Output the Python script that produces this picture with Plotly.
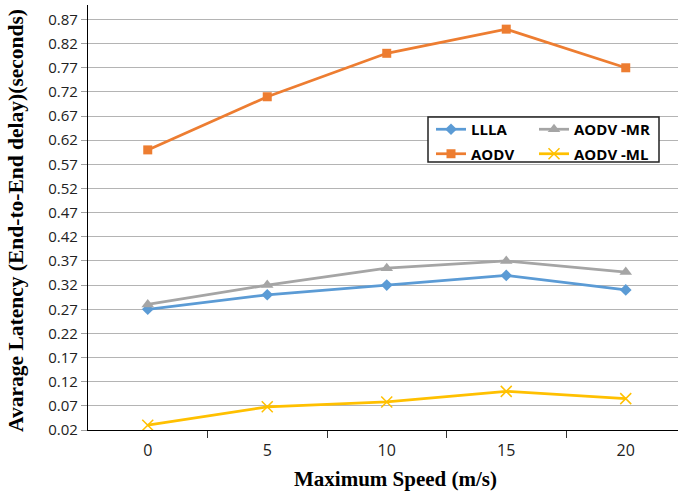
import plotly.graph_objects as go

speeds = [0, 5, 10, 15, 20]
llla = [0.27, 0.30, 0.32, 0.34, 0.31]
aodv = [0.60, 0.71, 0.80, 0.85, 0.77]
aodv_mr = [0.28, 0.32, 0.355, 0.37, 0.347]
aodv_ml = [0.03, 0.068, 0.078, 0.10, 0.085]

y_ticks = [round(0.02 + 0.05 * i, 2) for i in range(18)]

W, H = 678, 493
L, R, T, B = 88, 0, 5, 63
pw, ph = W - L - R, H - T - B


def px_x(x):
    return (x - L) / pw


def px_y(y):
    return (H - B - y) / ph


fig = go.Figure()

series = [
    ("LLLA", llla, "#5B9BD5", dict(symbol="diamond", size=9), "legend"),
    ("AODV", aodv, "#ED7D31", dict(symbol="square", size=9), "legend"),
    ("AODV -MR", aodv_mr, "#A5A5A5", dict(symbol="triangle-up", size=11), "legend2"),
    ("AODV -ML", aodv_ml, "#FFC000", dict(symbol="x-thin", size=11,
                                          line=dict(width=1.5, color="#FFC000")), "legend2"),
]

for name, vals, color, marker, leg in series:
    fig.add_trace(go.Scatter(
        x=speeds, y=vals, name=name, mode="lines+markers",
        line=dict(color=color, width=2.75),
        marker=dict(color=color, **marker),
        legend=leg, legendgroup=name,
    ))

# legend frame
fig.add_shape(type="rect", xref="paper", yref="paper",
              x0=px_x(428), x1=px_x(659), y0=px_y(162), y1=px_y(117),
              line=dict(color="#222222", width=1.5), fillcolor="white", layer="above")

legend_font = dict(family="Open Sans, Arial, sans-serif", size=15, color="black", weight="bold")

serif = "Liberation Serif, Times New Roman, serif"

fig.update_layout(
    width=W, height=H,
    margin=dict(l=L, r=R, t=T, b=B),
    paper_bgcolor="white", plot_bgcolor="white",
    showlegend=True,
    legend=dict(x=px_x(431), y=px_y(113), xanchor="left", yanchor="top",
                bgcolor="rgba(0,0,0,0)", font=legend_font, tracegroupgap=2,
                itemwidth=30),
    legend2=dict(x=px_x(534), y=px_y(113), xanchor="left", yanchor="top",
                 bgcolor="rgba(0,0,0,0)", font=legend_font, tracegroupgap=2,
                 itemwidth=30),
    xaxis=dict(
        range=[-2.5, -2.5 + pw / 23.9],
        tickvals=speeds, ticktext=[str(s) for s in speeds],
        ticks="", showgrid=False, zeroline=False,
        showline=True, linecolor="black", linewidth=1.2,
        tickfont=dict(family="Open Sans, Arial, sans-serif", size=16, color="#222222"),
        minor=dict(tickvals=[2.5, 7.5, 12.5, 17.5], ticks="outside", ticklen=7,
                   tickcolor="#333333", tickwidth=1, showgrid=False),
    ),
    yaxis=dict(
        range=[0.02, 0.90],
        tickvals=y_ticks, ticktext=[f"{v:.2f}" for v in y_ticks],
        ticks="outside", ticklen=6, tickcolor="#a0a0a0",
        showgrid=True, gridcolor="#b4b4b4", gridwidth=1.2, zeroline=False,
        showline=True, linecolor="black", linewidth=1.2,
        tickfont=dict(family="Open Sans, Arial, sans-serif", size=15, color="#222222"),
    ),
    annotations=[
        dict(text="<b>Maximum Speed (m/s)</b>", xref="paper", yref="paper",
             x=px_x(395), y=px_y(479), xanchor="center", yanchor="middle",
             showarrow=False, font=dict(family=serif, size=21, color="black")),
        dict(text="<b>Avarage Latency (End-to-End delay)(seconds)</b>", xref="paper", yref="paper",
             x=px_x(16), y=px_y(221), xanchor="center", yanchor="middle", textangle=-90,
             showarrow=False, font=dict(family=serif, size=21.5, color="black")),
    ],
)

fig.update_xaxes(ticklabelstandoff=6)

fig.write_html("out.html")
